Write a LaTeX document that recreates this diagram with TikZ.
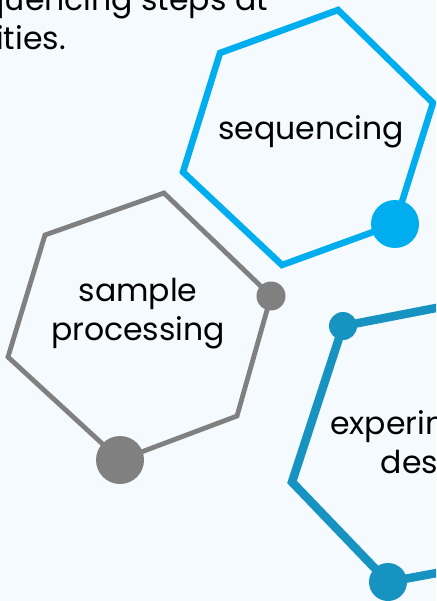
\documentclass[tikz,border=0pt]{standalone}
\usepackage{fontspec}
\setmainfont{Poppins}
\definecolor{bgc}{HTML}{F4FAFD}
\definecolor{seqblue}{HTML}{00AEEF}
\definecolor{hexgray}{HTML}{808080}
\definecolor{expblue}{HTML}{1793C1}
\begin{document}
\begin{tikzpicture}[x=1pt,y=-1pt,
  lbl/.style={font=\fontsize{31.5}{39}\selectfont, text=black, align=center, inner sep=0pt},
  hexline/.style={line join=miter, miter limit=10},
  dot/.style={circle, inner sep=0pt, minimum size=#1}]
\useasboundingbox (0,0) rectangle (436,601);
\clip (0,0) rectangle (436,601);
\fill[bgc] (0,0) rectangle (436,601);
% top text
\node[lbl, anchor=base east] (top1) at (268,11) {sequencing steps at};
\node[lbl, anchor=base east] (top2) at (66,50) {facilities.};
% sequencing hexagon
\draw[seqblue, line width=6.5pt, hexline] (220,53) -- (338,10) -- (433,103) -- (395,224) -- (282,265) -- (183,172) -- cycle;
\node[dot=48pt, fill=seqblue] (seqdot) at (395,224) {};
\node[lbl, anchor=base] (seq) at (311,140) {sequencing};
% sample processing hexagon
\draw[hexgray, line width=4.8pt, hexline] (164,193) -- (271,296) -- (237,416) -- (120,460) -- (8,357) -- (45,235) -- cycle;
\node[dot=29pt, fill=hexgray] (gdot1) at (271,296) {};
\node[dot=48pt, fill=hexgray] (gdot2) at (120,460) {};
\node[lbl, anchor=base] (samp) at (138,340) {sample\\processing};
% experimental design hexagon
\draw[expblue, line width=8.5pt, hexline] (343,326) -- (292,482) -- (388,582) -- (545,553) -- (590,420) -- (498,296) -- cycle;
\node[dot=28pt, fill=expblue] (edot1) at (343,326) {};
\node[dot=38pt, fill=expblue] (edot2) at (388,582) {};
\node[lbl, anchor=base] (exp) at (434,473) {experimental\\design};
\end{tikzpicture}
\end{document}
